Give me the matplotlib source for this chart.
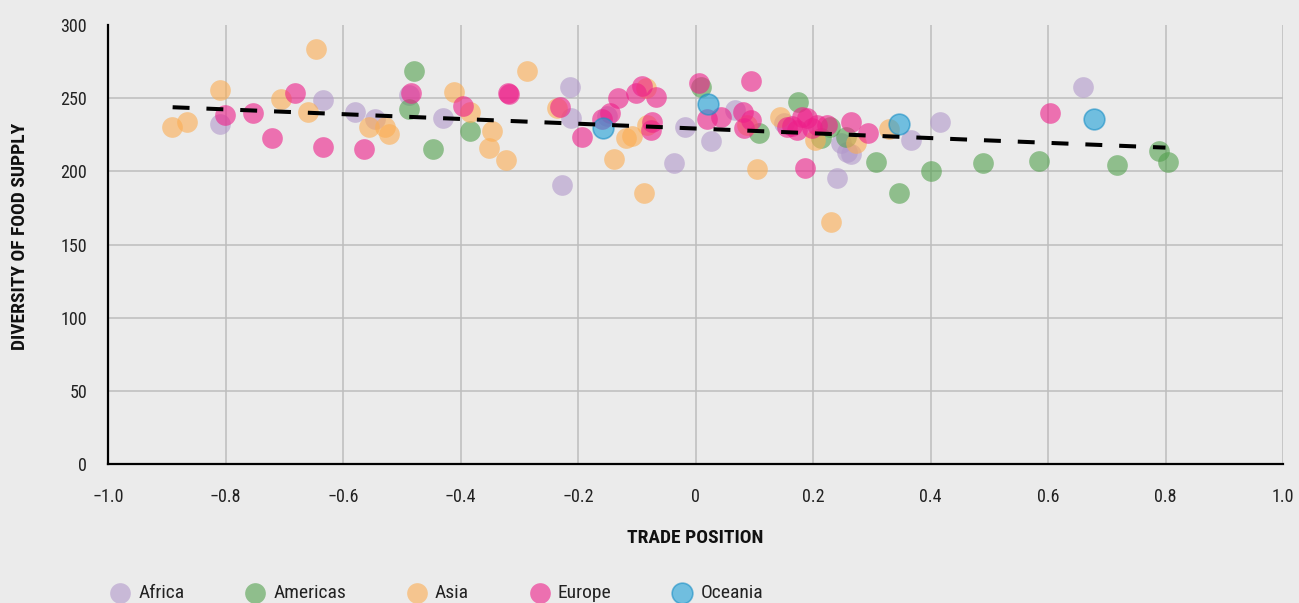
import matplotlib
matplotlib.use("Agg")
import matplotlib.pyplot as plt
from matplotlib import font_manager
import numpy as np

# ---------------- data ----------------
africa_x = [-0.809, -0.634, -0.579, -0.545, -0.488, -0.430, -0.213, -0.212, -0.227, -0.150,
            -0.018, -0.036, 0.027, 0.068, 0.150, 0.240, 0.248, 0.258, 0.264, 0.367, 0.417, 0.660]
africa_y = [232.4, 248.6, 240.6, 235.6, 252.2, 236.7, 257.5, 236.3, 190.7, 238.0,
            230.6, 205.5, 220.8, 242.0, 232.9, 195.5, 219.2, 213.5, 211.7, 221.5, 233.6, 257.5]

americas_x = [-0.480, -0.487, -0.446, -0.384, 0.009, 0.108, 0.175, 0.213, 0.229, 0.256,
              0.308, 0.347, 0.400, 0.490, 0.585, 0.717, 0.789, 0.805]
americas_y = [268.6, 242.4, 215.5, 227.6, 257.7, 226.5, 247.7, 222.6, 230.6, 223.7,
              206.6, 185.4, 200.5, 205.5, 207.4, 204.4, 213.9, 206.4]

asia_x = [-0.891, -0.865, -0.809, -0.705, -0.660, -0.646, -0.555, -0.528, -0.521, -0.411,
          -0.383, -0.347, -0.352, -0.323, -0.286, -0.236, -0.138, -0.119, -0.108, -0.085,
          -0.083, -0.087, 0.104, 0.088, 0.144, 0.204, 0.230, 0.273, 0.329]
asia_y = [230.5, 233.5, 255.6, 249.5, 240.6, 283.7, 230.6, 230.6, 225.6, 254.5,
          240.8, 227.6, 215.8, 207.8, 268.6, 243.1, 208.7, 222.6, 224.2, 256.8,
          231.5, 185.4, 201.6, 231.7, 237.4, 221.5, 165.2, 219.2, 228.7]

europe_x = [-0.801, -0.754, -0.721, -0.681, -0.634, -0.564, -0.484, -0.395, -0.319, -0.317,
            -0.230, -0.194, -0.160, -0.146, -0.132, -0.102, -0.091, -0.067, -0.074, -0.075,
            0.006, 0.019, 0.043, 0.095, 0.081, 0.082, 0.094, 0.156, 0.165, 0.173,
            0.182, 0.190, 0.187, 0.199, 0.207, 0.224, 0.265, 0.294, 0.603]
europe_y = [238.6, 239.7, 222.6, 253.8, 216.9, 215.5, 253.4, 244.7, 253.8, 253.0,
            244.2, 223.3, 235.5, 240.2, 250.0, 253.4, 258.4, 251.1, 234.0, 228.3,
            260.4, 235.6, 237.4, 261.8, 240.4, 229.4, 235.1, 230.6, 231.0, 228.3,
            237.4, 236.3, 202.5, 229.5, 231.7, 231.7, 234.0, 226.5, 239.7]

oceania_x = [-0.157, 0.022, 0.347, 0.679]
oceania_y = [229.4, 245.8, 232.4, 235.6]

trend_x = [-0.89, 0.80]
trend_y = [243.8, 216.2]

region_names = ["Africa", "Americas", "Asia", "Europe", "Oceania"]
x_ticks = [-1.0, -0.8, -0.6, -0.4, -0.2, 0.0, 0.2, 0.4, 0.6, 0.8, 1.0]
x_tick_labels = ["\u22121.0", "\u22120.8", "\u22120.6", "\u22120.4", "\u22120.2", "0",
                 "0.2", "0.4", "0.6", "0.8", "1.0"]
y_ticks = [0, 50, 100, 150, 200, 250, 300]

# ---------------- style ----------------
names = {f.name for f in font_manager.fontManager.ttflist}
FAMILY = "DejaVu Sans"
for cand in ["Roboto Condensed", "Archivo Narrow", "Fira Sans Condensed",
             "IBM Plex Sans Condensed", "Barlow Semi Condensed"]:
    if cand in names:
        FAMILY = cand
        break
plt.rcParams["font.family"] = [FAMILY, "DejaVu Sans"]

BG = "#ebebeb"
colors = ["#b298cb", "#52a04d", "#fcad52", "#ee1e89", "#1ea0d8"]
ALPHA = 0.6

fig = plt.figure(figsize=(12.99, 6.03), dpi=100, facecolor=BG)
ax = fig.add_axes([108 / 1299, 1 - 464 / 603, (1283 - 108) / 1299, (464 - 25) / 603])
ax.set_facecolor(BG)

series = [(africa_x, africa_y), (americas_x, americas_y), (asia_x, asia_y),
          (europe_x, europe_y), (oceania_x, oceania_y)]
handles = []
for i, ((xs, ys), name) in enumerate(zip(series, region_names)):
    if name == "Oceania":
        h = ax.scatter(xs, ys, s=222, color=colors[i], alpha=ALPHA,
                       edgecolors="#1a8fc6", linewidths=1.2, label=name, zorder=3)
    else:
        h = ax.scatter(xs, ys, s=222, color=colors[i], alpha=ALPHA,
                       linewidths=0, label=name, zorder=3)
    handles.append(h)

ax.plot(trend_x, trend_y, color="black", lw=2.9, dashes=(4.2, 4.2),
        solid_capstyle="butt", dash_capstyle="butt", zorder=4)

ax.set_xlim(-1.0, 1.0)
ax.set_ylim(0, 300)
ax.set_xticks(x_ticks)
ax.set_xticklabels(x_tick_labels)
ax.set_yticks(y_ticks)
ax.tick_params(axis="both", length=0, labelsize=13, colors="#222222")
ax.tick_params(axis="x", pad=17)
ax.tick_params(axis="y", pad=15)
ax.grid(True, color="#bdbdbd", lw=1.1, zorder=0)
ax.set_axisbelow(True)
ax.yaxis.get_gridlines()[-1].set_visible(False)
ax.yaxis.get_gridlines()[0].set_visible(False)
ax.xaxis.get_gridlines()[0].set_visible(False)

for side in ["top", "right"]:
    ax.spines[side].set_visible(False)
for side in ["left", "bottom"]:
    ax.spines[side].set_color("black")
    ax.spines[side].set_linewidth(1.6)
    ax.spines[side].set_zorder(5)

fig.text(695 / 1299, 1 - 538 / 603, "TRADE POSITION", ha="center", va="center",
         fontsize=14, fontweight="bold", color="#111111")
fig.text(20 / 1299, 1 - 236 / 603, "DIVERSITY OF FOOD SUPPLY", ha="center", va="center",
         rotation=90, fontsize=14, fontweight="bold", color="#111111")

leg = fig.legend(handles=handles, labels=region_names, loc="center left",
                 bbox_to_anchor=(109.6 / 1299, 1 - 593 / 603), ncol=5, frameon=False,
                 fontsize=14, handlelength=1.07, handletextpad=0.4, columnspacing=3.1,
                 borderpad=0, borderaxespad=0, scatterpoints=1)
for t in leg.get_texts():
    t.set_color("#222222")

fig.savefig("out.png", dpi=100, facecolor=BG)
